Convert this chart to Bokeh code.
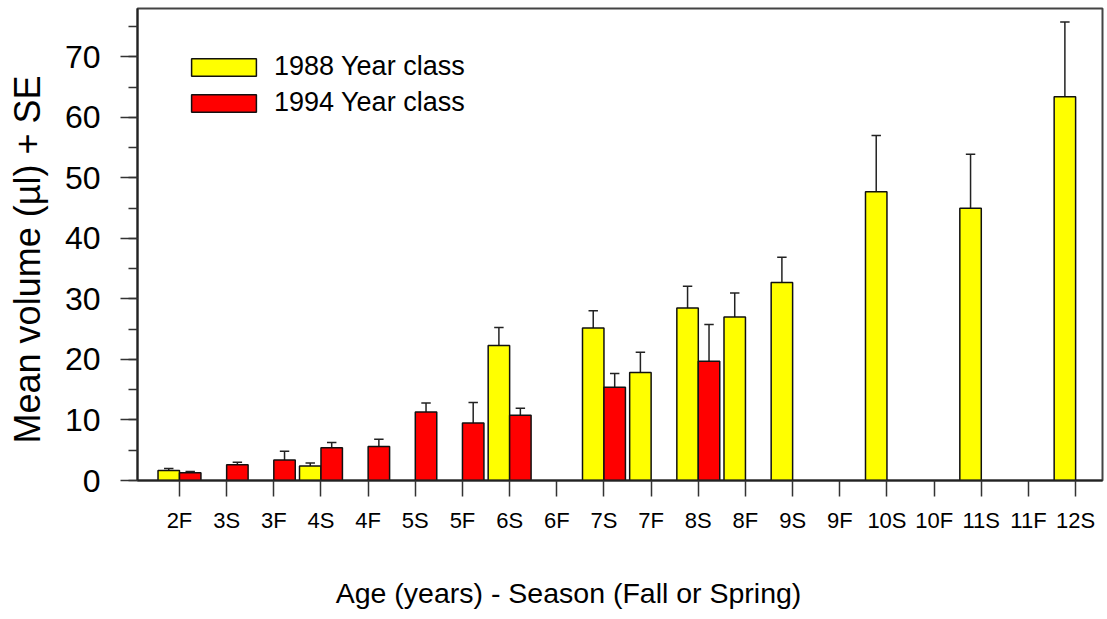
from bokeh.plotting import figure
from bokeh.models import FixedTicker, SingleIntervalTicker, Range1d, Legend, LegendItem, ColumnDataSource
from bokeh.embed import file_html
from bokeh.resources import INLINE

categories = ["2F", "3S", "3F", "4S", "4F", "5S", "5F", "6S", "6F", "7S",
              "7F", "8S", "8F", "9S", "9F", "10S", "10F", "11S", "11F", "12S"]

# 1988 Year class
yc1988_cats = ["2F", "4S", "6S", "7S", "7F", "8S", "8F", "9S", "10S", "11S", "12S"]
yc1988_mean = [1.65, 2.4, 22.3, 25.2, 17.85, 28.5, 27.0, 32.7, 47.7, 45.0, 63.4]
yc1988_se = [0.35, 0.5, 3.0, 2.85, 3.35, 3.6, 4.0, 4.2, 9.3, 8.9, 12.35]

# 1994 Year class
yc1994_cats = ["2F", "3S", "3F", "4S", "4F", "5S", "5F", "6S", "7S", "8S"]
yc1994_mean = [1.27, 2.6, 3.4, 5.4, 5.6, 11.3, 9.5, 10.8, 15.4, 19.7]
yc1994_se = [0.23, 0.4, 1.45, 0.9, 1.2, 1.5, 3.4, 1.15, 2.3, 6.1]

FONT = "Liberation Sans"
BW = 0.455
OFF = BW / 2
CAP = 0.2
NB = "\u00a0"

idx = {c: i for i, c in enumerate(categories)}

p = figure(width=1104, height=612, output_backend="svg", toolbar_location=None,
           x_range=Range1d(-0.89, 19.57), y_range=Range1d(0, 78),
           min_border_left=137, min_border_top=8, min_border_right=2, min_border_bottom=132)

p.grid.visible = False
p.background_fill_color = "white"
p.border_fill_color = "white"
p.outline_line_color = "#444444"
p.outline_line_width = 2

def make_src(cats, mean, se, shift):
    x = [idx[c] + shift for c in cats]
    top = [m + s for m, s in zip(mean, se)]
    return ColumnDataSource(dict(x=x, mean=mean, top=top,
                                 x0=[v - CAP / 2 for v in x], x1=[v + CAP / 2 for v in x]))

s88 = make_src(yc1988_cats, yc1988_mean, yc1988_se, -OFF)
s94 = make_src(yc1994_cats, yc1994_mean, yc1994_se, OFF)

for s in (s88, s94):
    p.segment(x0="x", y0="mean", x1="x", y1="top", source=s, line_color="#222222", line_width=1.5)
    p.segment(x0="x0", y0="top", x1="x1", y1="top", source=s, line_color="#222222", line_width=1.5)

r88 = p.vbar(x="x", top="mean", bottom=0, width=BW, source=s88,
             fill_color="#FFFF00", line_color="#111111", line_width=1.5)
r94 = p.vbar(x="x", top="mean", bottom=0, width=BW, source=s94,
             fill_color="#FF0000", line_color="#111111", line_width=1.5)

# x axis
xa = p.xaxis[0]
xa.ticker = FixedTicker(ticks=list(range(len(categories))))
xa.major_label_overrides = {i: c for i, c in enumerate(categories)}
xa.minor_tick_line_color = None
xa.major_tick_in = 0
xa.major_tick_out = 16
xa.major_tick_line_color = "#333333"
xa.major_tick_line_width = 1.5
xa.axis_line_color = "#222222"
xa.axis_line_width = 2
xa.major_label_text_font = FONT
xa.major_label_text_font_size = "22px"
xa.major_label_text_color = "black"
xa.major_label_standoff = 11
xa.axis_label = "Age (years) - Season (Fall or Spring)" + NB * 13
xa.axis_label_text_font = FONT
xa.axis_label_text_font_size = "28.5px"
xa.axis_label_text_font_style = "normal"
xa.axis_label_text_color = "black"
xa.axis_label_standoff = 41

# y axis
ya = p.yaxis[0]
ya.ticker = SingleIntervalTicker(interval=10, num_minor_ticks=2)
ya.major_tick_in = 0
ya.major_tick_out = 17
ya.minor_tick_in = 0
ya.minor_tick_out = 9
ya.major_tick_line_color = "#333333"
ya.minor_tick_line_color = "#333333"
ya.major_tick_line_width = 1.5
ya.minor_tick_line_width = 1.5
ya.axis_line_color = "#222222"
ya.axis_line_width = 2
ya.major_label_text_font = FONT
ya.major_label_text_font_size = "32px"
ya.major_label_text_color = "black"
ya.major_label_standoff = 20
ya.axis_label = "Mean volume (\u00b5l) + SE" + NB * 3
ya.axis_label_text_font = FONT
ya.axis_label_text_font_size = "36px"
ya.axis_label_text_font_style = "normal"
ya.axis_label_text_color = "black"
ya.axis_label_standoff = 14

legend = Legend(items=[LegendItem(label="1988 Year class", renderers=[r88]),
                       LegendItem(label="1994 Year class", renderers=[r94])],
                location=(46, 362), orientation="vertical",
                glyph_width=81, glyph_height=22, label_standoff=10,
                label_text_font=FONT, label_text_font_size="27px", label_text_color="black",
                spacing=5, padding=0, margin=0,
                border_line_color=None, background_fill_alpha=0)
p.add_layout(legend)

open("out.html", "w").write(file_html(p, INLINE))
